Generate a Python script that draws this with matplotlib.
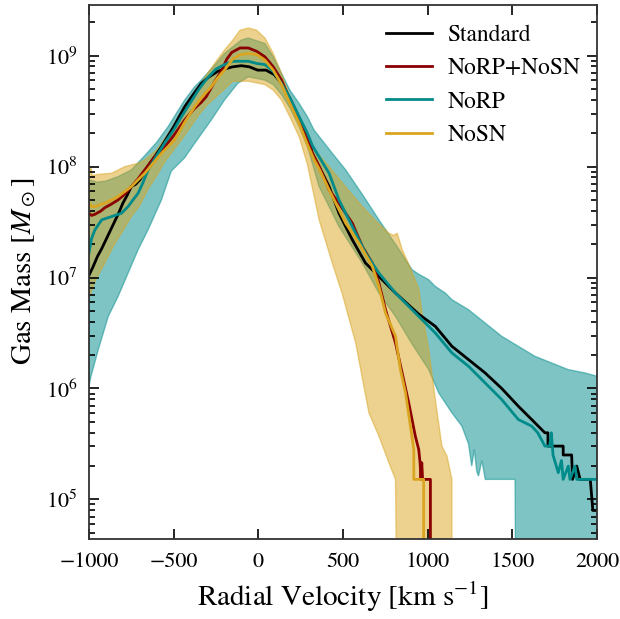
import numpy as np
import matplotlib
matplotlib.use("Agg")
import matplotlib.pyplot as plt

plt.rcParams['font.family'] = ['STIXGeneral', 'DejaVu Serif']
plt.rcParams['mathtext.fontset'] = 'stix'

labels = ["Standard", "NoRP+NoSN", "NoRP", "NoSN"]
colors = ["black", "#8b0000", "#008b8b", "#daa520"]

# log10 gas mass, velocity in km/s
v_std = [-1000, -975, -950, -925, -900, -875, -850, -825, -800, -775, -750, -725, -700, -670, -640,
         -612, -572, -500, -435, -380, -337, -290, -239, -200, -151, -100, -53, -4, 45, 94, 143, 192,
         241, 290, 319, 418, 476, 555, 633, 712, 810, 947, 1045, 1143, 1241, 1339, 1437, 1535, 1614,
         1692, 1710, 1710, 1800, 1800, 1850, 1855, 1880, 1900, 1960, 1975, 2000]
m_std = [7.02, 7.10, 7.19, 7.26, 7.34, 7.42, 7.50, 7.58, 7.67, 7.74, 7.82, 7.84, 7.88, 7.95, 8.03,
         8.09, 8.18, 8.36, 8.54, 8.66, 8.75, 8.81, 8.86, 8.88, 8.90, 8.91, 8.90, 8.87, 8.87, 8.83, 8.74, 8.60,
         8.44, 8.27, 8.12, 7.82, 7.58, 7.34, 7.13, 7.01, 6.86, 6.67, 6.56, 6.38, 6.26, 6.14, 6.00, 5.84, 5.72,
         5.60, 5.60, 5.48, 5.48, 5.40, 5.40, 5.18, 5.30, 5.18, 5.18, 4.90, 4.90]

v_norpsn = [-1000, -985, -965, -930, -906, -870, -828, -790, -750, -710, -671, -612, -572, -500, -435,
            -380, -337, -308, -260, -219, -186, -157, -108, -59, -10, 39, 88, 137, 186, 241, 290, 319,
            360, 418, 476, 555, 614, 673, 712, 751, 810, 849, 888, 927, 947, 955, 960, 965, 970, 975,
            1016, 1016]
m_norpsn = [7.58, 7.56, 7.57, 7.60, 7.63, 7.66, 7.70, 7.75, 7.82, 7.89, 7.97, 8.09, 8.14, 8.28, 8.42,
            8.52, 8.58, 8.63, 8.76, 8.86, 8.97, 9.03, 9.07, 9.07, 9.04, 8.99, 8.90, 8.78, 8.60, 8.42, 8.25, 8.12,
            8.00, 7.79, 7.67, 7.49, 7.28, 7.13, 6.95, 6.71, 6.41, 6.14, 5.87, 5.57, 5.45, 5.33, 5.18, 5.33, 5.18,
            5.18, 5.18, 4.0]

v_norp = [-1000, -985, -965, -925, -866, -808, -769, -740, -710, -680, -651, -592, -550, -500, -450,
          -400, -350, -300, -250, -200, -151, -100, -59, -10, 39, 88, 137, 186, 241, 290, 319, 370, 418,
          476, 555, 633, 712, 810, 947, 1045, 1143, 1241, 1339, 1437, 1535, 1614, 1650, 1692, 1720, 1730,
          1740, 1771, 1790, 1800, 1830, 1840, 1870, 1880, 2000]
m_norp = [7.22, 7.35, 7.43, 7.52, 7.55, 7.58, 7.64, 7.70, 7.76, 7.86, 7.97, 8.12, 8.22, 8.33, 8.46,
          8.58, 8.70, 8.80, 8.88, 8.92, 8.95, 8.95, 8.95, 8.93, 8.92, 8.86, 8.75, 8.62, 8.45, 8.30, 8.19, 8.06, 7.94,
          7.70, 7.46, 7.22, 7.04, 6.86, 6.65, 6.50, 6.32, 6.20, 6.05, 5.90, 5.72, 5.66, 5.60, 5.48, 5.48, 5.60,
          5.40, 5.24, 5.35, 5.18, 5.30, 5.18, 5.30, 5.18, 5.18]

v_nosn = [-1000, -985, -965, -906, -828, -750, -671, -572, -494, -435, -376, -320, -278, -240, -200,
          -151, -108, -59, -10, 39, 88, 137, 186, 241, 290, 330, 359, 418, 516, 594, 673, 712, 751, 810,
          839, 869, 898, 918, 918, 976, 976]
m_nosn = [7.67, 7.64, 7.64, 7.67, 7.73, 7.82, 7.94, 8.12, 8.24, 8.40, 8.54, 8.65, 8.72, 8.80, 8.87,
          8.97, 9.01, 9.02, 9.01, 8.96, 8.87, 8.74, 8.57, 8.39, 8.20, 8.06, 7.98, 7.79, 7.49, 7.31, 7.10, 6.92,
          6.68, 6.47, 6.17, 5.96, 5.66, 5.45, 5.18, 5.18, 4.0]

# NoRP spread
v_norp_hi = [-1000, -950, -900, -828, -750, -670, -600, -533, -435, -376, -337, -249, -200, -151, -102,
             -59, 39, 88, 137, 186, 241, 290, 329, 437, 516, 614, 712, 810, 908, 947, 1006, 1045, 1104,
             1143, 1241, 1339, 1437, 1535, 1633, 1731, 1829, 1927, 2000]
m_norp_hi = [7.88, 7.86, 7.87, 7.91, 7.97, 8.10, 8.22, 8.36, 8.60, 8.72, 8.78, 8.93, 9.02, 9.08, 9.14,
             9.16, 9.11, 8.99, 8.84, 8.69, 8.57, 8.45, 8.33, 8.12, 7.97, 7.75, 7.52, 7.30, 7.07, 7.03, 6.98, 6.92,
             6.86, 6.80, 6.71, 6.59, 6.47, 6.38, 6.29, 6.23, 6.17, 6.14, 6.11]
v_norp_lo = [-1000, -988, -945, -886, -828, -769, -710, -651, -572, -514, -435, -376, -278, -200, -122,
             -59, 39, 88, 137, 186, 241, 290, 359, 476, 614, 712, 810, 908, 1006, 1065, 1143, 1202, 1241,
             1260, 1275, 1290, 1300, 1320, 1340, 1516, 1520, 2000]
m_norp_lo = [6.02, 6.11, 6.35, 6.65, 6.83, 7.04, 7.25, 7.43, 7.70, 7.96, 8.08, 8.21, 8.42, 8.60, 8.75,
             8.81, 8.78, 8.74, 8.65, 8.53, 8.36, 8.18, 7.82, 7.46, 7.13, 6.86, 6.65, 6.40, 6.17, 5.96, 5.78, 5.66,
             5.50, 5.30, 5.45, 5.25, 5.21, 5.35, 5.18, 5.18, 4.0, 4.0]

# NoSN spread
v_nosn_hi = [-1000, -990, -980, -945, -866, -788, -710, -671, -600, -530, -450, -376, -300, -249, -200,
             -151, -108, -59, -10, 39, 88, 137, 186, 241, 290, 350, 418, 514, 614, 700, 771, 800, 820, 850,
             888, 947, 967, 1006, 1045, 1084, 1114, 1143, 1143]
m_nosn_hi = [7.94, 8.00, 7.92, 7.93, 7.94, 8.00, 8.03, 8.06, 8.15, 8.30, 8.48, 8.66, 8.84, 8.95, 9.05,
             9.14, 9.23, 9.25, 9.23, 9.16, 9.02, 8.84, 8.63, 8.42, 8.25, 8.12, 8.00, 7.82, 7.64, 7.50, 7.40, 7.38,
             7.40, 7.25, 7.12, 6.90, 6.68, 6.35, 5.90, 5.48, 5.39, 5.18, 4.0]
v_nosn_lo = [-1000, -960, -900, -850, -800, -750, -700, -650, -600, -550, -500, -450, -400, -350, -300,
             -249, -200, -151, -59, 39, 88, 137, 186, 241, 290, 359, 437, 496, 575, 653, 712, 771, 810, 818,
             1143]
m_nosn_lo = [6.82, 6.98, 7.15, 7.30, 7.42, 7.55, 7.65, 7.80, 7.92, 8.05, 8.15, 8.25, 8.36, 8.47, 8.56,
             8.63, 8.70, 8.77, 8.77, 8.74, 8.69, 8.60, 8.45, 8.27, 8.02, 7.52, 7.13, 6.85, 6.41, 5.78, 5.57, 5.33,
             5.18, 4.0, 4.0]

fig = plt.figure(figsize=(6.2, 6.19), dpi=100)
ax = fig.add_axes([0.1435, 0.1297, 0.8195, 0.8627])

def band(vh, mh, vl, ml, c):
    xs = list(vh) + list(vl)[::-1]
    ys = list(10 ** np.array(mh)) + list(10 ** np.array(ml))[::-1]
    ax.fill(xs, ys, facecolor=c, edgecolor=c, alpha=0.5, lw=1.0)

band(v_norp_hi, m_norp_hi, v_norp_lo, m_norp_lo, colors[2])
band(v_nosn_hi, m_nosn_hi, v_nosn_lo, m_nosn_lo, colors[3])

series = [(v_std, m_std), (v_norpsn, m_norpsn), (v_norp, m_norp), (v_nosn, m_nosn)]
for (v, m), lab, c in zip(series, labels, colors):
    ax.plot(v, 10 ** np.array(m), color=c, lw=2.0, label=lab)

ax.set_yscale('log')
ax.set_xlim(-1000, 2000)
ax.set_ylim(10 ** 4.645, 10 ** 9.46)
ax.set_xticks([-1000, -500, 0, 500, 1000, 1500, 2000])
ax.set_xlabel(r'Radial Velocity [km s$^{-1}$]', fontsize=21, labelpad=5)
ax.set_ylabel(r'Gas Mass [$M_\odot$]', fontsize=21, labelpad=6)
ax.tick_params(which='both', direction='in', top=True, right=True, labelsize=16, width=1.2)
ax.tick_params(which='major', length=7, pad=8)
ax.tick_params(axis='x', which='major', pad=10)
ax.tick_params(which='minor', length=4)
for s in ax.spines.values():
    s.set_linewidth(1.3)
    s.set_color('#333333')

ax.legend(loc='upper left', bbox_to_anchor=(0.585, 0.963), frameon=False, fontsize=17,
          handlelength=1.95, handletextpad=0.64, labelspacing=0.5, borderpad=0, borderaxespad=0)

fig.savefig("out.png", dpi=100)
